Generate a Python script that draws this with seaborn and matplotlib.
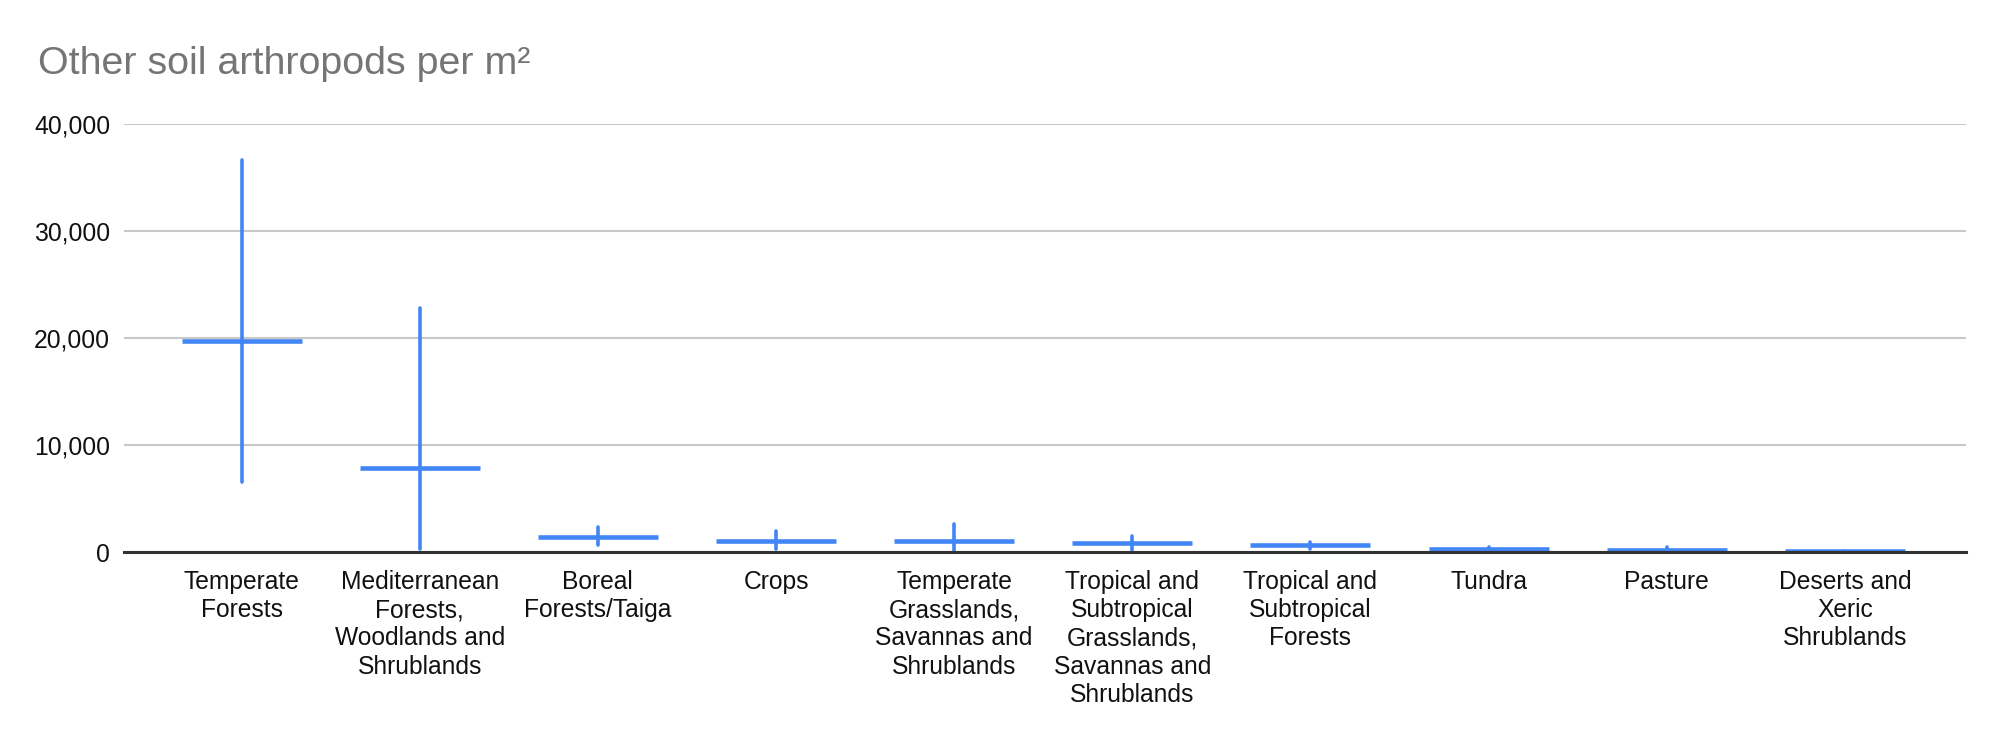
import matplotlib
matplotlib.use("Agg")
import matplotlib.pyplot as plt
import seaborn as sns
import pandas as pd

biomes = [
    "Temperate\nForests",
    "Mediterranean\nForests,\nWoodlands and\nShrublands",
    "Boreal\nForests/Taiga",
    "Crops",
    "Temperate\nGrasslands,\nSavannas and\nShrublands",
    "Tropical and\nSubtropical\nGrasslands,\nSavannas and\nShrublands",
    "Tropical and\nSubtropical\nForests",
    "Tundra",
    "Pasture",
    "Deserts and\nXeric\nShrublands",
]
low = [6550, 250, 650, 310, 0, 220, 310, 120, 100, 40]
mid = [19700, 7850, 1390, 1020, 1020, 800, 620, 310, 190, 90]
high = [36600, 22800, 2320, 1980, 2600, 1520, 930, 500, 430, 130]

rows = []
for b, lo, m, hi in zip(biomes, low, mid, high):
    for v in (lo, m, hi):
        rows.append({"biome": b, "value": v})
df = pd.DataFrame(rows)

sns.set_theme(style="white")
plt.rcParams["font.family"] = ["Liberation Sans", "DejaVu Sans"]

W, H = 2004, 742
fig = plt.figure(figsize=(W / 100, H / 100), dpi=100)
ax = fig.add_axes([124 / W, 190 / H, (1966 - 124) / W, (618 - 190) / H])

blue = "#4285F4"
sns.pointplot(
    data=df, x="biome", y="value", order=biomes,
    estimator="median", errorbar=("pi", 100),
    linestyle="none", marker="_", color=blue,
    markersize=86, markeredgewidth=3.3,
    err_kws={"linewidth": 2.6}, capsize=0, ax=ax, zorder=3,
)

ax.set_ylim(0, 40000)
ax.set_xlim(-0.66, 9.68)
ax.set_yticks([0, 10000, 20000, 30000, 40000])
ax.set_yticklabels([f"{v:,}" for v in [0, 10000, 20000, 30000, 40000]])
ax.yaxis.grid(True, color="#c8c8c8", linewidth=1.5)
ax.xaxis.grid(False)
ax.set_axisbelow(True)
for s in ["top", "right", "left"]:
    ax.spines[s].set_visible(False)
ax.spines["bottom"].set_color("#333333")
ax.spines["bottom"].set_linewidth(2.2)
ax.spines["bottom"].set_zorder(4)
ax.tick_params(axis="y", length=0, pad=10, labelsize=17.8, labelcolor="#111111")
ax.tick_params(axis="x", length=0, pad=13, labelsize=17.7, labelcolor="#111111")
for lab in ax.get_xticklabels():
    lab.set_linespacing(1.22)
    lab.set_va("top")
ax.set_xlabel("")
ax.set_ylabel("")

fig.text(38 / W, 1 - 64 / H, "Other soil arthropods per m²", ha="left", va="center",
         fontsize=28.4, color="#757575")

fig.savefig("out.png", dpi=100, facecolor="white")
